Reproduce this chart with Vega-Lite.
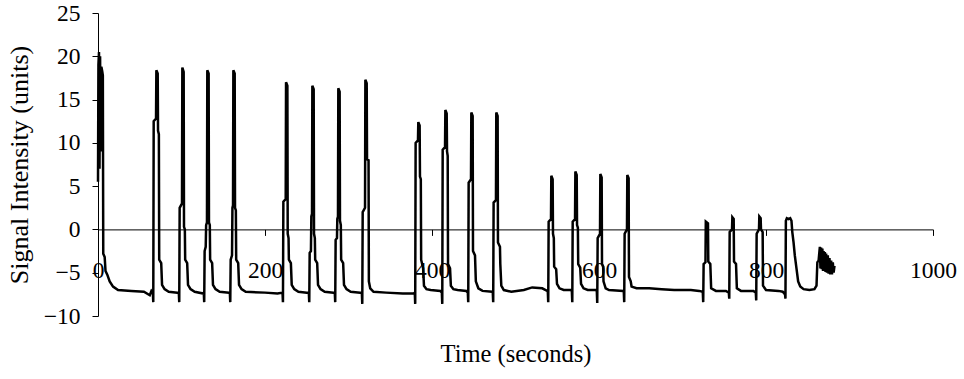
{
  "$schema": "https://vega.github.io/schema/vega-lite/v6.json",
  "width": 835,
  "height": 303,
  "autosize": "none",
  "padding": {"left": 98, "top": 13, "right": 31, "bottom": 63},
  "background": "white",
  "config": {"view": {"stroke": null}, "font": "Liberation Serif"},
  "data": {"values": [
    {"t":0,"v":5.5},{"t":0.5,"v":19},{"t":1.2,"v":20.5},{"t":1.8,"v":7},{"t":2.5,"v":20},{"t":3.2,"v":9},{"t":4,"v":18.8},{"t":5,"v":18.3},{"t":5.8,"v":17.8},{"t":6.3,"v":-2.8},{"t":8,"v":-3.2},{"t":9,"v":-4.8},{"t":11,"v":-5.2},{"t":14,"v":-6.0},{"t":18,"v":-6.6},{"t":24,"v":-7.0},{"t":40,"v":-7.1},{"t":55,"v":-7.2},{"t":62,"v":-7.6},{"t":64,"v":-7.1},
    {"t":65.7,"v":-7.3},{"t":66.2,"v":-8.4},{"t":66.7,"v":12.5},{"t":69.5,"v":12.8},{"t":69.9,"v":18.4},{"t":71.5,"v":18.0},{"t":71.9,"v":11.4},{"t":72.9,"v":11.0},{"t":73.3,"v":-3.5},{"t":75.7,"v":-3.9},{"t":76.7,"v":-6.4},{"t":79.7,"v":-6.9},{"t":84.7,"v":-7.2},{"t":95,"v":-7.3},
    {"t":96.8,"v":-7.3},{"t":97.3,"v":-8.4},{"t":97.8,"v":2.5},{"t":100.6,"v":3.0},{"t":101.0,"v":18.7},{"t":102.6,"v":18.2},{"t":103.0,"v":0.3},{"t":104.0,"v":0.0},{"t":104.4,"v":-3.5},{"t":106.8,"v":-3.9},{"t":107.8,"v":-6.4},{"t":110.8,"v":-6.9},{"t":115.8,"v":-7.2},{"t":126,"v":-7.4},
    {"t":126.7,"v":-7.3},{"t":127.2,"v":-8.4},{"t":127.7,"v":-2.5},{"t":129,"v":-2.0},{"t":129.5,"v":0.5},{"t":130.5,"v":0.8},{"t":130.9,"v":18.4},{"t":132.5,"v":18.0},{"t":132.9,"v":0.8},{"t":133.9,"v":0.5},{"t":134.3,"v":-3.5},{"t":136.7,"v":-3.9},{"t":137.7,"v":-6.4},{"t":140.7,"v":-6.9},{"t":145.7,"v":-7.2},{"t":157,"v":-7.3},
    {"t":157.9,"v":-7.3},{"t":158.4,"v":-8.4},{"t":158.9,"v":-3.5},{"t":160.5,"v":-3.0},{"t":161,"v":2.5},{"t":161.7,"v":2.8},{"t":162.1,"v":18.4},{"t":163.7,"v":18.0},{"t":164.1,"v":2.5},{"t":165.1,"v":2.2},{"t":165.5,"v":-3.5},{"t":167.9,"v":-3.9},{"t":168.9,"v":-6.4},{"t":171.9,"v":-6.9},{"t":176.9,"v":-7.2},{"t":200,"v":-7.3},{"t":215,"v":-7.4},
    {"t":221,"v":-7.3},{"t":221.5,"v":-8.4},{"t":222,"v":3.2},{"t":224.8,"v":3.5},{"t":225.2,"v":17.0},{"t":226.8,"v":16.6},{"t":227.2,"v":-0.5},{"t":228.2,"v":-1.0},{"t":228.6,"v":-3.5},{"t":231,"v":-3.9},{"t":232,"v":-6.4},{"t":235,"v":-6.9},{"t":240,"v":-7.2},{"t":250,"v":-7.3},
    {"t":252.5,"v":-7.3},{"t":253,"v":-8.4},{"t":253.5,"v":-2.7},{"t":255,"v":-2.5},{"t":255.5,"v":1.5},{"t":256.3,"v":1.8},{"t":256.7,"v":16.6},{"t":258.3,"v":16.2},{"t":258.7,"v":-0.5},{"t":259.7,"v":-1.0},{"t":260.1,"v":-3.5},{"t":262.5,"v":-3.9},{"t":263.5,"v":-6.4},{"t":266.5,"v":-6.9},{"t":271.5,"v":-7.2},{"t":282,"v":-7.3},
    {"t":283.6,"v":-7.3},{"t":284.1,"v":-8.4},{"t":284.6,"v":-1.2},{"t":286.2,"v":-1.0},{"t":286.6,"v":1.2},{"t":287.4,"v":1.5},{"t":287.8,"v":16.3},{"t":289.4,"v":15.9},{"t":289.8,"v":1.0},{"t":290.8,"v":0.5},{"t":291.2,"v":-3.5},{"t":293.6,"v":-3.9},{"t":294.6,"v":-6.4},{"t":297.6,"v":-6.9},{"t":302.6,"v":-7.2},{"t":314,"v":-7.3},
    {"t":316,"v":-7.3},{"t":316.5,"v":-8.6},{"t":317,"v":2},{"t":319.8,"v":2.5},{"t":320.2,"v":17.3},{"t":321.8,"v":16.9},{"t":322.2,"v":8.1},{"t":324,"v":8.0},{"t":324.4,"v":-6.0},{"t":326,"v":-6.8},{"t":330,"v":-7.2},{"t":345,"v":-7.3},{"t":365,"v":-7.4},{"t":378,"v":-7.4},
    {"t":379.4,"v":-7.3},{"t":379.9,"v":-8.6},{"t":380.4,"v":10},{"t":383.2,"v":10.3},{"t":383.6,"v":12.4},{"t":385.2,"v":12.0},{"t":385.6,"v":6.1},{"t":386.6,"v":5.8},{"t":387,"v":-3.5},{"t":389.4,"v":-4.5},{"t":390.4,"v":-6.5},{"t":393.4,"v":-6.9},{"t":398.4,"v":-7.0},{"t":410,"v":-7.1},
    {"t":411.8,"v":-7.3},{"t":412.3,"v":-8.6},{"t":412.8,"v":9.2},{"t":415.6,"v":9.5},{"t":416.0,"v":13.8},{"t":417.6,"v":13.4},{"t":418.0,"v":9.0},{"t":418.8,"v":8.5},{"t":419.2,"v":-4.0},{"t":421.6,"v":-4.5},{"t":422.6,"v":-6.5},{"t":425.6,"v":-6.9},{"t":430.6,"v":-7.0},{"t":441,"v":-7.1},
    {"t":442.9,"v":-7.3},{"t":443.4,"v":-8.4},{"t":443.9,"v":5.4},{"t":446.7,"v":5.8},{"t":447.1,"v":13.5},{"t":448.7,"v":13.1},{"t":449.1,"v":-2.5},{"t":451.5,"v":-3.0},{"t":452.5,"v":-6.0},{"t":455.5,"v":-6.8},{"t":460.5,"v":-7.1},{"t":472,"v":-7.2},
    {"t":472.8,"v":-7.3},{"t":473.3,"v":-8.4},{"t":473.8,"v":3.1},{"t":476.6,"v":3.4},{"t":477.0,"v":13.5},{"t":478.6,"v":13.1},{"t":479.0,"v":-1.5},{"t":481.4,"v":-2.0},{"t":481.8,"v":-4.0},{"t":483,"v":-6.5},{"t":486,"v":-7.0},{"t":495,"v":-7.2},{"t":510,"v":-7.0},{"t":520,"v":-6.7},{"t":532,"v":-6.8},{"t":538,"v":-7.1},
    {"t":538.7,"v":-7.2},{"t":539.2,"v":-8.4},{"t":539.7,"v":0.9},{"t":542.5,"v":1.2},{"t":542.9,"v":6.2},{"t":544.5,"v":5.8},{"t":544.9,"v":-0.5},{"t":545.9,"v":-1},{"t":546.3,"v":-4.3},{"t":548.7,"v":-4.6},{"t":549.7,"v":-6.3},{"t":552.7,"v":-6.8},{"t":557.7,"v":-7.0},{"t":567,"v":-7.0},
    {"t":567.5,"v":-7.2},{"t":568,"v":-8.4},{"t":568.5,"v":0.9},{"t":571.3,"v":1.2},{"t":571.7,"v":6.7},{"t":573.3,"v":6.3},{"t":573.7,"v":0.5},{"t":574.7,"v":0.2},{"t":575.1,"v":-4.0},{"t":577.5,"v":-4.4},{"t":578.5,"v":-6.3},{"t":581.5,"v":-6.8},{"t":586.5,"v":-7.0},{"t":597,"v":-7.0},
    {"t":597.4,"v":-7.2},{"t":597.9,"v":-8.5},{"t":598.4,"v":-1},{"t":601.2,"v":-0.5},{"t":601.6,"v":6.4},{"t":603.2,"v":6.0},{"t":603.6,"v":-4.0},{"t":605.0,"v":-4.3},{"t":605.4,"v":-6.0},{"t":608,"v":-6.8},{"t":612,"v":-7.0},{"t":629,"v":-7.1},
    {"t":629.7,"v":-7.2},{"t":630.2,"v":-8.4},{"t":630.7,"v":-0.5},{"t":633.5,"v":0},{"t":633.9,"v":6.3},{"t":635.5,"v":5.9},{"t":635.9,"v":-5.5},{"t":638,"v":-6.0},{"t":639,"v":-6.6},{"t":645,"v":-6.8},{"t":660,"v":-6.8},{"t":675,"v":-6.9},{"t":690,"v":-7.0},{"t":710,"v":-7.0},{"t":720,"v":-7.1},
    {"t":724.3,"v":-7.2},{"t":724.8,"v":-8.4},{"t":725.3,"v":-4.0},{"t":727.5,"v":-3.8},{"t":727.9,"v":0.9},{"t":730.5,"v":0.7},{"t":730.9,"v":-3.7},{"t":733.3,"v":-4.0},{"t":734.3,"v":-6.8},{"t":740,"v":-7.1},{"t":752,"v":-7.1},
    {"t":755.5,"v":-7.3},{"t":756,"v":-8.0},{"t":756.5,"v":-0.3},{"t":759.3,"v":0},{"t":759.7,"v":1.4},{"t":761.3,"v":1.2},{"t":761.7,"v":-3.7},{"t":764.1,"v":-4.0},{"t":765.1,"v":-6.8},{"t":770,"v":-7.1},{"t":785,"v":-7.1},
    {"t":787.8,"v":-7.3},{"t":788.3,"v":-8.2},{"t":788.8,"v":-0.5},{"t":791.6,"v":0.0},{"t":792.0,"v":1.5},{"t":793.6,"v":1.3},{"t":794.0,"v":0.0},{"t":796,"v":-0.3},{"t":796.4,"v":-6.5},{"t":800,"v":-7.0},{"t":815,"v":-7.1},{"t":820,"v":-7.2},
    {"t":822.8,"v":-7.5},{"t":823.3,"v":-8.0},{"t":823.8,"v":1.0},{"t":825,"v":1.3},{"t":827,"v":1.2},{"t":829,"v":1.3},{"t":830.5,"v":1.0},{"t":831.5,"v":-0.3},{"t":833,"v":-1.5},{"t":834.5,"v":-3.0},{"t":836.5,"v":-4.5},{"t":838.5,"v":-6.0},{"t":841,"v":-6.6},{"t":845,"v":-6.9},{"t":852,"v":-7.0},{"t":858,"v":-6.9},{"t":860.5,"v":-6.5},{"t":861.5,"v":-3.8},{"t":863,"v":-3.6},{"t":864.5,"v":-2.0},{"t":865.2,"v":-4.5},{"t":866,"v":-2.1},{"t":866.8,"v":-4.6},{"t":867.5,"v":-2.2},{"t":868.3,"v":-4.8},{"t":869,"v":-2.5},{"t":869.8,"v":-4.8},{"t":870.5,"v":-2.6},{"t":871.3,"v":-4.9},{"t":872,"v":-2.8},{"t":873,"v":-5.0},{"t":874,"v":-3.0},{"t":875,"v":-5.1},{"t":876,"v":-3.3},{"t":877,"v":-5.2},{"t":878,"v":-3.6},{"t":879,"v":-5.2},{"t":880,"v":-3.8},{"t":881,"v":-5.0},{"t":882,"v":-4.2}
  ]},
  "mark": {"type": "line", "color": "black", "strokeWidth": 2.5, "interpolate": "linear"},
  "encoding": {
    "x": {
      "field": "t", "type": "quantitative",
      "scale": {"domain": [0, 1000], "nice": false, "zero": false},
      "axis": {
        "title": "Time (seconds)", "titleFont": "Liberation Serif", "titleFontSize": 24.5, "titleFontWeight": "normal", "titleColor": "black",
        "titleY": 125, "titleBaseline": "middle",
        "values": [0, 200, 400, 600, 800, 1000], "format": "d", "grid": false,
        "offset": -86.6, "tickSize": 6, "tickColor": "black", "domainColor": "black", "domainWidth": 1,
        "labelFont": "Liberation Serif", "labelFontSize": 23.5, "labelColor": "black", "labelPadding": 23,
        "labelFlush": false, "labelOverlap": false
      }
    },
    "y": {
      "field": "v", "type": "quantitative",
      "scale": {"domain": [-10, 25], "nice": false, "zero": false},
      "axis": {
        "title": "Signal Intensity (units)", "titleFont": "Liberation Serif", "titleFontSize": 26, "titleFontWeight": "normal", "titleColor": "black",
        "titleX": -79, "titleY": 151.5, "titleBaseline": "middle", "titleAlign": "center", "titleAngle": -90,
        "values": [-10, -5, 0, 5, 10, 15, 20, 25], "format": "d", "grid": false,
        "tickSize": 6, "tickColor": "black", "domainColor": "black",
        "labelFont": "Liberation Serif", "labelFontSize": 23.5, "labelColor": "black", "labelPadding": 12,
        "labelFlush": false, "labelOverlap": false
      }
    }
  }
}
